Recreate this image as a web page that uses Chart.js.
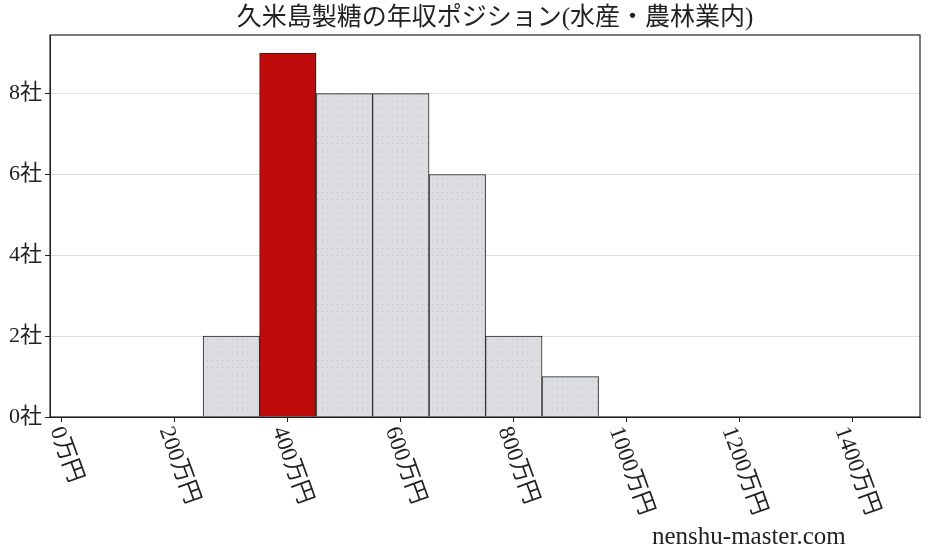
<!DOCTYPE html>
<html lang="ja">
<head>
<meta charset="UTF-8">
<title>久米島製糖の年収ポジション</title>
<script src="https://cdn.jsdelivr.net/npm/chart.js"></script>
<style>
  html, body { margin: 0; padding: 0; background: #fff; }
  #wrap { width: 928px; height: 557px; }
</style>
</head>
<body>
<div id="wrap"><canvas id="chart" width="928" height="557"></canvas></div>
<script>
// histogram bins (bin centre, 万円) and company counts
const binCenters = [300, 400, 500, 600, 700, 800, 900];
const counts = [2, 9, 8, 8, 6, 2, 1];
const highlightIndex = 1;
const xTicks = [0, 200, 400, 600, 800, 1000, 1200, 1400];
const yTicks = [0, 2, 4, 6, 8];
const titleText = '久米島製糖の年収ポジション(水産・農林業内)';
const watermark = 'nenshu-master.com';

const FONT = "'Liberation Serif', 'DejaVu Serif', 'Noto Sans CJK JP', serif";

// dotted light grey fill like the hatch in the original
function makeDots() {
    const c = document.createElement('canvas');
    c.width = 5; c.height = 7;
    const g = c.getContext('2d');
    g.fillStyle = '#dcdde0';
    g.fillRect(0, 0, 5, 7);
    g.fillStyle = '#bcbdc0';
    g.fillRect(2, 3, 1, 1);
    return g.createPattern(c, 'repeat');
}
const dots = makeDots();

const fills = counts.map((v, i) => i === highlightIndex ? '#c00b0b' : dots);

const extras = {
    id: 'extras',
    afterDraw(chart) {
        const ctx = chart.ctx;
        const a = chart.chartArea;
        const xs = chart.scales.x;
        ctx.save();
        // frame
        ctx.strokeStyle = '#222';
        ctx.lineWidth = 1.2;
        ctx.strokeRect(a.left, a.top, a.right - a.left, a.bottom - a.top);

        // title
        ctx.fillStyle = '#222';
        ctx.font = '25px ' + FONT;
        ctx.textAlign = 'center';
        ctx.textBaseline = 'middle';
        ctx.fillText(titleText, 495, 18);

        // rotated x tick labels (clockwise, hanging below the tick)
        const ang = 70 * Math.PI / 180;
        ctx.font = '23px ' + FONT;
        xTicks.forEach(v => {
            const s = v + '万円';
            const L = ctx.measureText(s).width;
            const h = 22;
            const px = xs.getPixelForValue(v);
            const cy = a.bottom + 7 + (L * Math.sin(ang) + h * Math.cos(ang)) / 2;
            ctx.save();
            ctx.translate(px + 4, cy);
            ctx.rotate(ang);
            ctx.textAlign = 'center';
            ctx.textBaseline = 'middle';
            ctx.fillText(s, 0, 0);
            ctx.restore();
        });

        // watermark
        ctx.font = '25px ' + FONT;
        ctx.textAlign = 'left';
        ctx.textBaseline = 'alphabetic';
        ctx.fillText(watermark, 652, 544);
        ctx.restore();
    }
};

new Chart(document.getElementById('chart'), {
    type: 'bar',
    data: {
        datasets: [{
            data: binCenters.map((x, i) => ({ x: x, y: counts[i] })),
            backgroundColor: fills,
            borderColor: '#222',
            borderWidth: 1,
            barPercentage: 1,
            categoryPercentage: 1
        }]
    },
    options: {
        responsive: false,
        animation: false,
        layout: { padding: { top: 35, right: 8, left: 0, bottom: 0 } },
        plugins: { legend: { display: false }, tooltip: { enabled: false } },
        scales: {
            x: {
                type: 'linear',
                offset: false,
                min: -21,
                max: 1519,
                afterFit: s => { s.height = 140; },
                afterBuildTicks: s => { s.ticks = xTicks.map(v => ({ value: v })); },
                ticks: { color: 'rgba(0,0,0,0)', autoSkip: false, minRotation: 0, maxRotation: 0 },
                grid: { offset: false, drawOnChartArea: false, drawTicks: true, tickLength: 5, tickColor: '#222' },
                border: { display: true, color: '#222' }
            },
            y: {
                min: 0,
                max: 9.45,
                afterFit: s => { s.width = 50; },
                afterBuildTicks: s => { s.ticks = yTicks.map(v => ({ value: v })); },
                ticks: {
                    color: '#222',
                    padding: 3,
                    font: { family: FONT, size: 22 },
                    callback: v => v + '社'
                },
                grid: { color: '#dddddd', tickLength: 5, tickColor: '#222' },
                border: { display: true, color: '#222' }
            }
        }
    },
    plugins: [extras]
});
</script>
</body>
</html>
